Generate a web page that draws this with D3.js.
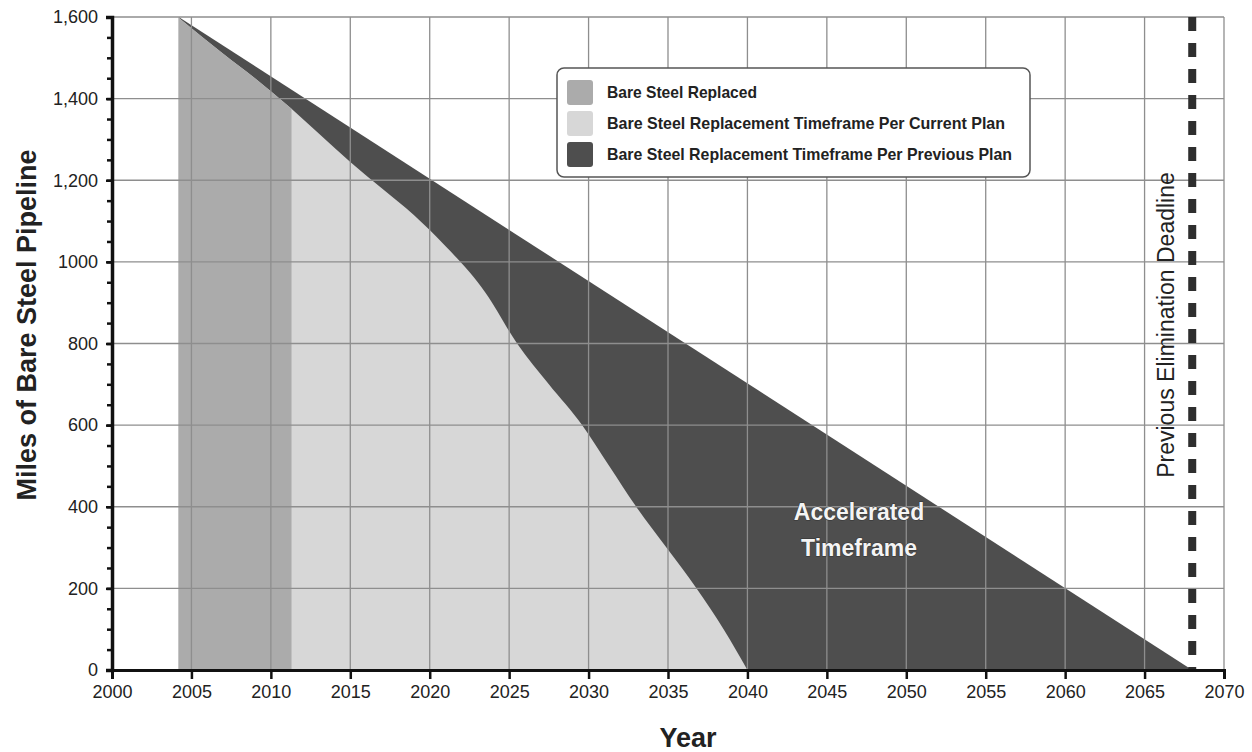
<!DOCTYPE html>
<html>
<head>
<meta charset="utf-8">
<script src="https://cdnjs.cloudflare.com/ajax/libs/d3/7.8.5/d3.min.js"></script>
<style>
  body { margin: 0; background: #fff; }
  text { font-family: "Liberation Sans", Arial, sans-serif; }
</style>
</head>
<body>
<div id="chart"></div>
<script>
// Datos: millas de tubería de acero desnudo
const previousPlanYears = [2004.2, 2068];
const previousPlanMiles = [1600, 0];

const currentPlanYears = [2004.2, 2007, 2009, 2011.3, 2013, 2015, 2017, 2019, 2020, 2021, 2022.5, 2023.5, 2025.5, 2027.5, 2029.6, 2031.3, 2033, 2034.9, 2036.8, 2038.5, 2040];
const currentPlanMiles = [1598, 1510, 1450, 1375, 1315, 1245, 1180, 1115, 1078, 1038, 975, 925, 800, 700, 600, 500, 400, 300, 200, 100, 0];

const replacedEndYear = 2011.3;
const deadlineYear = 2068;

const xTicks = d3.range(2000, 2071, 5);
const yTicks = [0, 200, 400, 600, 800, 1000, 1200, 1400, 1600];
const yTickLabels = ["0", "200", "400", "600", "800", "1000", "1,200", "1,400", "1,600"];
const yMinorTicks = d3.range(0, 1601, 50);

const legendLabels = ["Bare Steel Replaced", "Bare Steel Replacement Timeframe Per Current Plan", "Bare Steel Replacement Timeframe Per Previous Plan"];
const legendWidths = [150, 398, 405];
const colors = { replaced: "#ababab", current: "#d7d7d7", previous: "#4e4e4e" };

const W = 1252, H = 752;
const svg = d3.select("#chart").append("svg").attr("width", W).attr("height", H);

const x = d3.scaleLinear().domain([2000, 2070]).range([112, 1224]);
const y = d3.scaleLinear().domain([0, 1600]).range([670, 17]);

const prevData = previousPlanYears.map((d, i) => ({year: d, miles: previousPlanMiles[i]}));
const curData = currentPlanYears.map((d, i) => ({year: d, miles: currentPlanMiles[i]}));
const replacedData = curData.filter(d => d.year <= replacedEndYear);

const area = d3.area()
    .x(d => x(d.year))
    .y0(y(0))
    .y1(d => y(d.miles))
    .curve(d3.curveMonotoneX);

// Áreas
svg.append("path").datum(prevData).attr("d", area).attr("fill", colors.previous);
svg.append("path").datum(curData).attr("d", area).attr("fill", colors.current);
svg.append("path").datum(replacedData).attr("d", area).attr("fill", colors.replaced);

// Rejilla
const grid = svg.append("g").attr("stroke", "#8e8e8e").attr("stroke-width", 1.3);
grid.selectAll(".vg").data(xTicks.filter(d => d > 2000))
    .enter().append("line")
    .attr("x1", d => x(d)).attr("x2", d => x(d))
    .attr("y1", y(1600)).attr("y2", y(0));
grid.selectAll(".hg").data(yTicks.filter(d => d > 0))
    .enter().append("line")
    .attr("x1", x(2000)).attr("x2", x(2070))
    .attr("y1", d => y(d)).attr("y2", d => y(d));

// Línea de plazo anterior
svg.append("line")
    .attr("x1", x(deadlineYear)).attr("x2", x(deadlineYear))
    .attr("y1", y(1600)).attr("y2", y(0))
    .attr("stroke", "#2e2e2e").attr("stroke-width", 8)
    .attr("stroke-dasharray", "14,12");

// Ejes
const xAxis = d3.axisBottom(x).tickValues(xTicks).tickFormat(d3.format("d")).tickSize(9).tickPadding(6);
const gx = svg.append("g").attr("transform", "translate(0," + y(0) + ")").call(xAxis);
gx.select(".domain").attr("stroke", "#111").attr("stroke-width", 3);
gx.selectAll(".tick line").attr("stroke", "#111").attr("stroke-width", 2.5);
gx.selectAll(".tick text").attr("font-size", 18).attr("fill", "#222").attr("font-family", "Liberation Sans, Arial, sans-serif");

const yAxisMinor = d3.axisLeft(y).tickValues(yMinorTicks).tickFormat("").tickSize(5);
const gym = svg.append("g").attr("transform", "translate(" + x(2000) + ",0)").call(yAxisMinor);
gym.selectAll(".tick line").attr("stroke", "#111").attr("stroke-width", 2.5);
gym.select(".domain").remove();

const yAxis = d3.axisLeft(y).tickValues(yTicks).tickFormat((d, i) => yTickLabels[i]).tickSize(6).tickPadding(8);
const gy = svg.append("g").attr("transform", "translate(" + x(2000) + ",0)").call(yAxis);
gy.select(".domain").attr("stroke", "#111").attr("stroke-width", 3.5);
gy.selectAll(".tick line").attr("stroke", "#111").attr("stroke-width", 2.5);
gy.selectAll(".tick text").attr("font-size", 18).attr("fill", "#222").attr("font-family", "Liberation Sans, Arial, sans-serif");

// Títulos de ejes
svg.append("text")
    .attr("transform", "translate(36,325) rotate(-90)")
    .attr("text-anchor", "middle")
    .attr("font-size", 27).attr("font-weight", "bold").attr("fill", "#222")
    .text("Miles of Bare Steel Pipeline");

svg.append("text")
    .attr("x", 688).attr("y", 747)
    .attr("text-anchor", "middle")
    .attr("font-size", 27).attr("font-weight", "bold").attr("fill", "#222")
    .text("Year");

// Texto del plazo anterior
svg.append("text")
    .attr("transform", "translate(" + (x(deadlineYear) - 18) + ",325) rotate(-90)")
    .attr("text-anchor", "middle")
    .attr("font-size", 23).attr("fill", "#222")
    .text("Previous Elimination Deadline");

// Marco acelerado
const acc = svg.append("text")
    .attr("text-anchor", "middle")
    .attr("font-size", 23).attr("font-weight", "bold").attr("fill", "#f4f4f4")
    .attr("stroke", "#333").attr("stroke-width", 1).attr("paint-order", "stroke");
acc.append("tspan").attr("x", 859).attr("y", 520).text("Accelerated");
acc.append("tspan").attr("x", 859).attr("y", 556).text("Timeframe");

// Leyenda
const legend = svg.append("g").attr("transform", "translate(557,68)");
legend.append("rect")
    .attr("width", 473).attr("height", 109).attr("rx", 7)
    .attr("fill", "#fff").attr("stroke", "#555").attr("stroke-width", 1.5);
const legendColors = [colors.replaced, colors.current, colors.previous];
const rows = legend.selectAll(".row").data(legendLabels).enter().append("g")
    .attr("transform", (d, i) => "translate(10," + (12 + i * 31) + ")");
rows.append("rect").attr("width", 26).attr("height", 25).attr("rx", 3)
    .attr("fill", (d, i) => legendColors[i]);
rows.append("text")
    .attr("x", 40).attr("y", 18)
    .attr("font-family", "Liberation Sans Narrow, Arial Narrow, sans-serif")
    .attr("font-size", 17).attr("font-weight", "bold").attr("fill", "#222")
    .attr("textLength", (d, i) => legendWidths[i]).attr("lengthAdjust", "spacingAndGlyphs")
    .text(d => d);
</script>
</body>
</html>
